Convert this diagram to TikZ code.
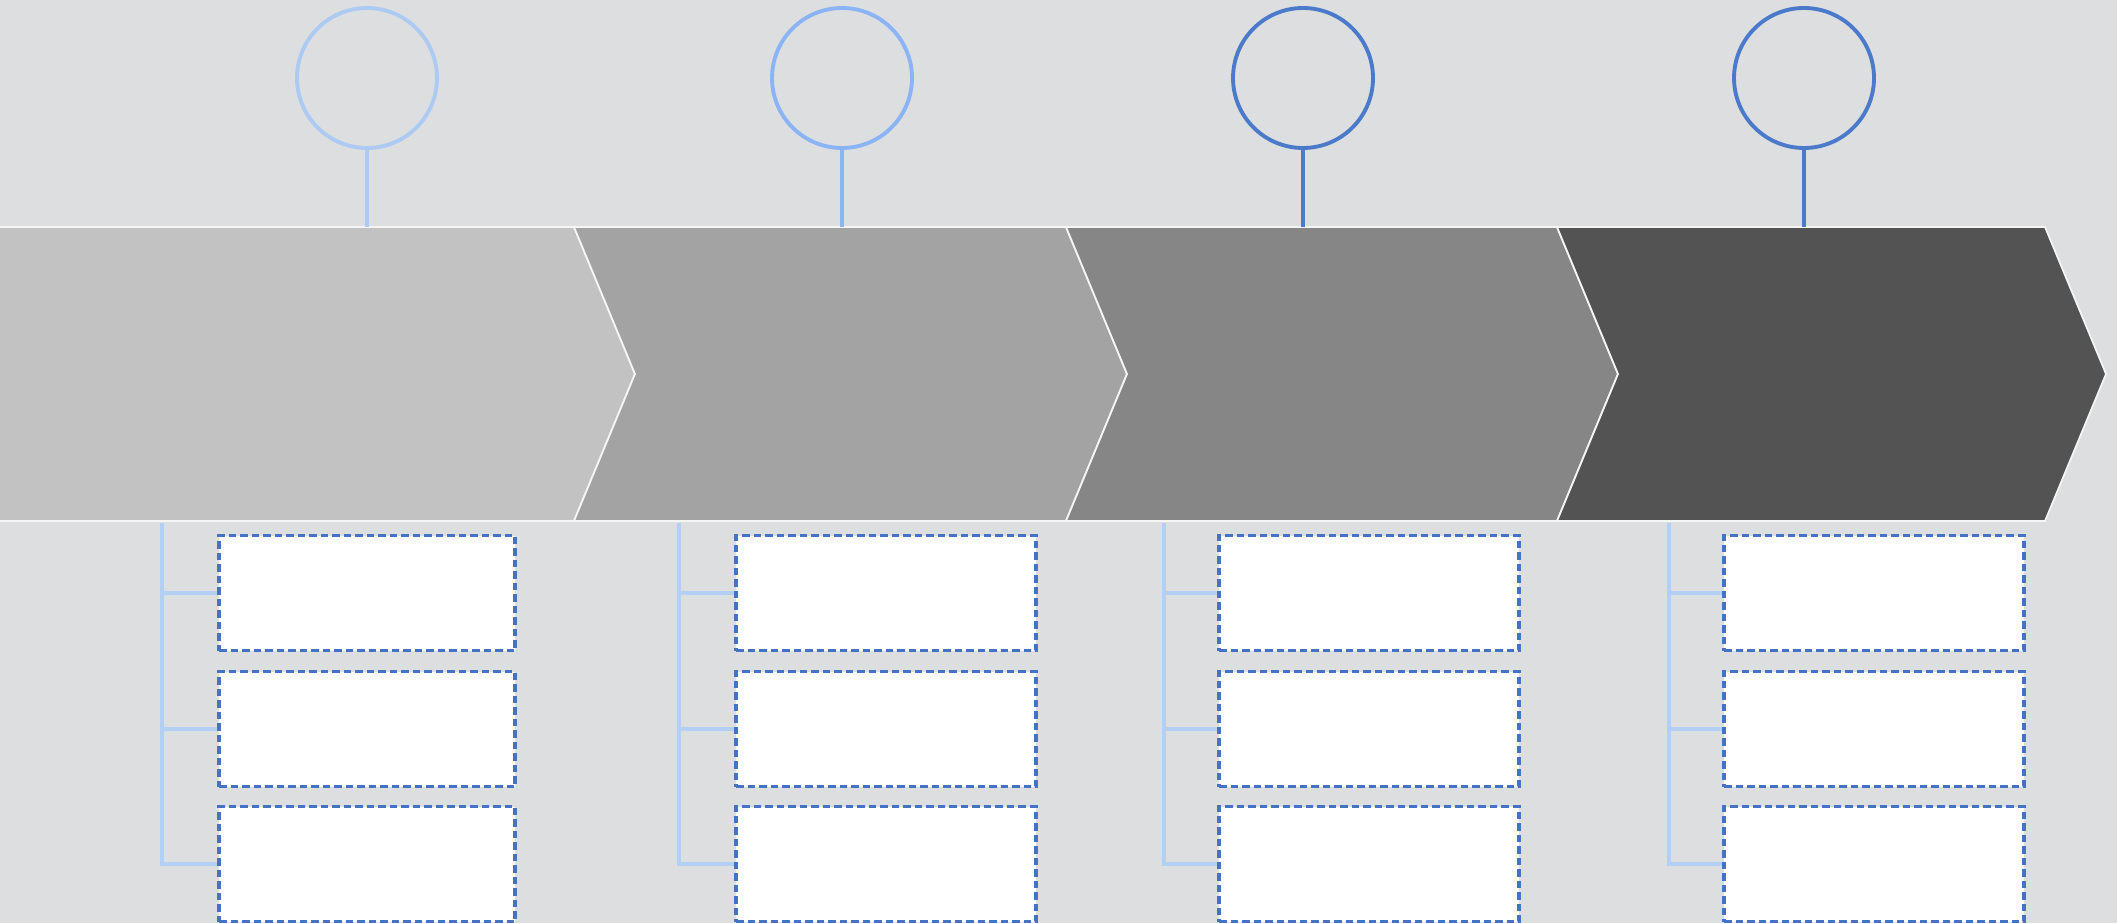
\documentclass[tikz,border=0pt]{standalone}
\usepackage{tikz}
\usetikzlibrary{positioning,calc}
\definecolor{pagebg}{RGB}{221,222,224}
\definecolor{chevA}{RGB}{194,194,195}
\definecolor{chevB}{RGB}{163,163,163}
\definecolor{chevC}{RGB}{134,134,135}
\definecolor{chevD}{RGB}{83,83,83}
\definecolor{pinA}{RGB}{172,202,242}
\definecolor{pinB}{RGB}{138,180,246}
\definecolor{pinC}{RGB}{74,122,201}
\definecolor{brkblue}{RGB}{178,207,245}
\definecolor{dashblue}{RGB}{68,114,196}
\tikzset{
  chev/.style={draw=white!92!gray, line width=0.5pt},
  pin/.style={circle, minimum size=14mm, inner sep=0pt, line width=1.1pt},
  stem/.style={line width=1.0pt},
  brk/.style={draw=brkblue, line width=1.0pt},
  slot/.style={draw=dashblue, fill=white, line width=0.9pt,
    dash pattern=on 0.75mm off 0.4mm, minimum height=11.5mm, inner sep=0pt},
}
\begin{document}
\begin{tikzpicture}[x=0.1mm, y=-0.1mm]
  \useasboundingbox (0,0) rectangle (2117,923);
  \fill[pagebg] (0,0) rectangle (2117,923);
  % band of chevrons
  \draw[chev, fill=chevA] (-10,227) -- (574,227) -- (635,374) -- (574,521) -- (-10,521) -- cycle;
  \foreach \xl/\xr/\col in {574/1066/chevB, 1066/1557/chevC, 1557/2045/chevD}
    \draw[chev, fill=\col] (\xl,227) -- (\xr,227) -- ({\xr+61},374) -- (\xr,521)
      -- (\xl,521) -- ({\xl+61},374) -- cycle;
  % pins on top
  \foreach \i/\cx/\col in {1/367/pinA, 2/842/pinB, 3/1303/pinC, 4/1804/pinC} {
    \node[pin, draw=\col] (c\i) at (\cx,78) {};
    \coordinate (t\i) at (\cx,227);
    \draw[stem, draw=\col] (c\i) -- (t\i);
  }
  % slots below
  \foreach \i/\kx/\bx/\bw in {1/162/367/29.6mm, 2/679/886/30mm, 3/1164/1369/30mm, 4/1669/1874/30mm} {
    \node[slot, minimum width=\bw] (b\i1) at (\bx,593) {};
    \node[slot, minimum width=\bw] (b\i2) at (\bx,729) {};
    \node[slot, minimum width=\bw] (b\i3) at (\bx,864) {};
    \coordinate (k\i) at (\kx,523);
    \draw[brk] (k\i) |- (b\i3.west);
    \draw[brk] (b\i1.west) -- (b\i1.west -| k\i);
    \draw[brk] (b\i2.west) -- (b\i2.west -| k\i);
  }
\end{tikzpicture}
\end{document}
